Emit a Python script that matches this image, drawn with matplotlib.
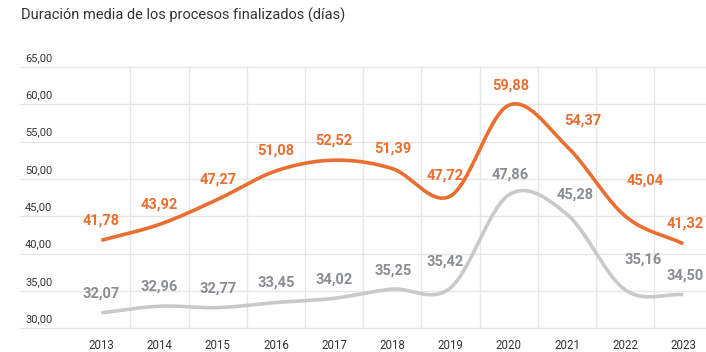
import numpy as np
import matplotlib
matplotlib.use('Agg')
import matplotlib.pyplot as plt

#data
years = ['2013', '2014', '2015', '2016', '2017', '2018', '2019', '2020', '2021', '2022', '2023']
orange_values = [41.78, 43.92, 47.27, 51.08, 52.52, 51.39, 47.72, 59.88, 54.37, 45.04, 41.32]
grey_values = [32.07, 32.96, 32.77, 33.45, 34.02, 35.25, 35.42, 47.86, 45.28, 35.16, 34.50]
y_ticks = [30, 35, 40, 45, 50, 55, 60, 65]
title = 'Duración media de los procesos finalizados (días)'

#label offsets in pixels (dx, dy)
orange_offsets = [(0, 20), (0, 20), (0, 20), (0, 20), (0, 20), (1, 20), (-5, 20), (2, 20), (16, 26), (20, 35), (2, 20)]
grey_offsets = [(0, 19), (0, 20), (0, 19), (0, 20), (0, 19), (1, 19), (-5, 26), (2, 20), (8, 20), (18, 30), (2, 19)]

ORANGE = '#EA6E2F'
GREY_LINE = '#C9C9C9'
GREY_TEXT = '#898D92'
GRID = '#E6E6E6'


#catmull-rom curve through the points
def smooth(y, n=30):
	y = np.asarray(y, dtype=float)
	x = np.arange(len(y), dtype=float)
	m = np.zeros(len(y))
	m[1:-1] = (y[2:] - y[:-2]) / 2
	m[0] = y[1] - y[0]
	m[-1] = y[-1] - y[-2]
	xs = []
	ys = []
	for i in range(len(y) - 1):
		t = np.linspace(0, 1, n, endpoint=False)
		h00 = 2*t**3 - 3*t**2 + 1
		h10 = t**3 - 2*t**2 + t
		h01 = -2*t**3 + 3*t**2
		h11 = t**3 - t**2
		xs.append(x[i] + t)
		ys.append(h00*y[i] + h10*m[i] + h01*y[i+1] + h11*m[i+1])
	xs.append([x[-1]])
	ys.append([y[-1]])
	return np.concatenate(xs), np.concatenate(ys)


fig = plt.figure(figsize=(7.06, 3.52), dpi=100)
ax = fig.add_axes([20/706, 1 - 328.3/352, 1 - 20/706, (328.3 - 67)/352])
ax.set_xlim(-1.397, 10.39)
ax.set_ylim(30, 65)
for s in ax.spines.values():
	s.set_visible(False)
ax.set_xticks([])
ax.set_yticks([])

#grid
for v in y_ticks:
	ax.axhline(v, color=GRID, lw=1, zorder=0, clip_on=False)
for i in range(len(years) - 1):
	ax.axvline(i + 0.5, color=GRID, lw=1, zorder=0)

#y labels above the gridlines
for v in y_ticks:
	ax.annotate(('%.2f' % v).replace('.', ','), xy=(5/686, v), xycoords=('axes fraction', 'data'),
		xytext=(0, 6), textcoords='offset pixels', ha='left', va='baseline',
		fontsize=8, color='#333333', family='Roboto')

#year labels, kept just inside the bottom edge
for i, yr in enumerate(years):
	ax.text(i, -0.08, yr, transform=ax.get_xaxis_transform(), ha='center', va='baseline',
		fontsize=8.3, color='#333333', family='Roboto')

#lines
x_idx = np.arange(len(years))
xs, ys = smooth(grey_values)
ax.plot(xs, ys, color=GREY_LINE, lw=2.6, solid_capstyle='butt', zorder=2)
xs, ys = smooth(orange_values)
ax.plot(xs, ys, color=ORANGE, lw=2.6, solid_capstyle='butt', zorder=3)

#value labels
for i in range(len(years)):
	dx, dy = orange_offsets[i]
	ax.annotate(('%.2f' % orange_values[i]).replace('.', ','), xy=(x_idx[i], orange_values[i]),
		xytext=(dx, dy), textcoords='offset pixels', ha='center', va='center',
		fontsize=10.5, fontweight='bold', color=ORANGE, family='Roboto', zorder=4)
	dx, dy = grey_offsets[i]
	ax.annotate(('%.2f' % grey_values[i]).replace('.', ','), xy=(x_idx[i], grey_values[i]),
		xytext=(dx, dy), textcoords='offset pixels', ha='center', va='center',
		fontsize=10.5, fontweight='bold', color=GREY_TEXT, family='Roboto', zorder=4)

#title
fig.text(21/706, 1 - 15/352, title, ha='left', va='center', fontsize=10.5, color='#333333', family='Roboto')

fig.savefig('out.png', dpi=100)
